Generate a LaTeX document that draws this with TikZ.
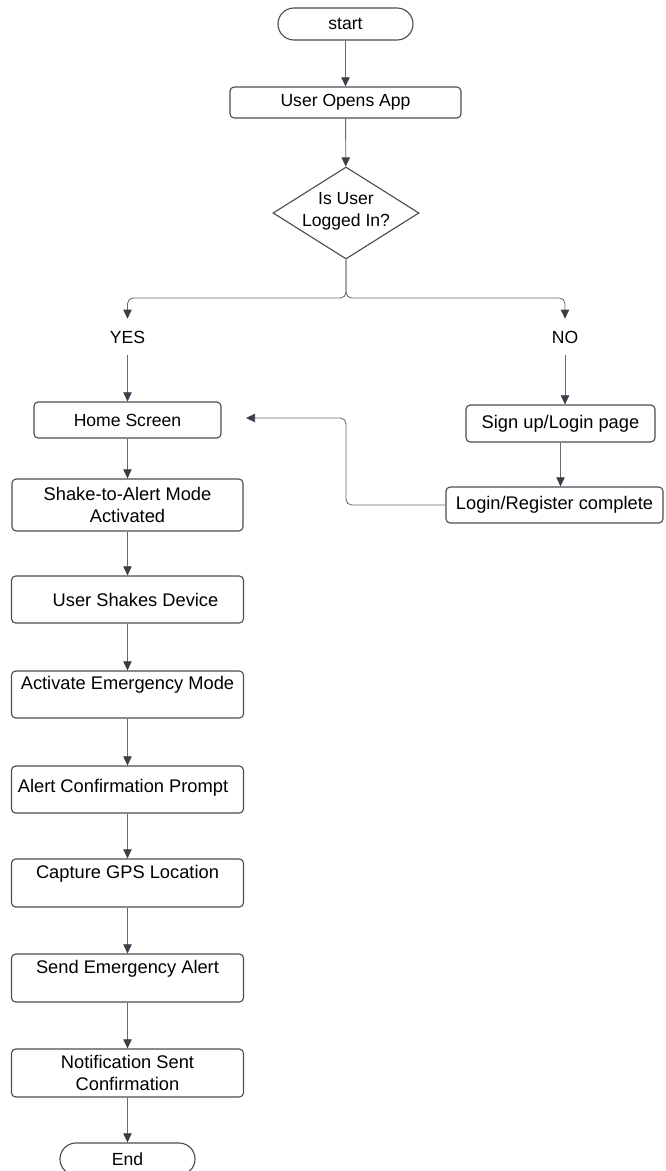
\documentclass[tikz,border=0pt]{standalone}
\usepackage{fontspec}
\setmainfont{Liberation Sans}
\usetikzlibrary{arrows.meta, shapes.geometric, shapes.misc, calc}
\definecolor{boxline}{RGB}{72,77,84}
\definecolor{flowline}{RGB}{100,105,112}
\definecolor{tipcolor}{RGB}{58,64,74}
\tikzset{
  box/.style={draw=boxline, line width=0.8pt, rounded corners=3pt, minimum width=5.8cm, minimum height=1.2cm, inner sep=0pt, align=center, font=\fontsize{13}{15.5}\selectfont},
  term/.style={draw=boxline, line width=0.8pt, rounded rectangle, minimum width=3.375cm, minimum height=0.8cm, inner sep=0pt, font=\fontsize{12.5}{15}\selectfont},
  decide/.style={draw=boxline, line width=0.8pt, diamond, minimum width=3.65cm, minimum height=2.3cm, inner sep=0pt},
  branch/.style={inner sep=0pt, minimum height=0.9cm, font=\fontsize{12.5}{15}\selectfont},
  txt/.style={inner sep=0pt, align=center, font=\fontsize{13}{15.5}\selectfont},
  flow/.style={draw=flowline, line width=0.6pt, rounded corners=4pt, -{Triangle[length=6.5pt, width=6pt, color=tipcolor]}}
}
\begin{document}
\begin{tikzpicture}[x=0.025cm, y=-0.025cm]
  \useasboundingbox (0,0) rectangle (665,1171);

  \node[term] (start) at (345.5,24) {start};
  \node[box, minimum width=5.775cm, minimum height=0.775cm, font=\fontsize{12.5}{15}\selectfont] (open) at (345.5,102.5) {User Opens App};
  \node[decide] (logged) at (346,213) {};
  \node[txt, font=\fontsize{12.5}{15.5}\selectfont] (loggedtxt) at (346,211) {Is User\\Logged In?};
  \coordinate (fork) at (346,298);
  \node[branch] (yes) at (127.5,337) {YES};
  \node[branch] (no) at (565,337) {NO};

  \node[box, minimum width=4.675cm, minimum height=0.9cm, font=\fontsize{12.5}{15}\selectfont] (home) at (127.5,420) {Home Screen};
  \node[box, minimum width=4.725cm, minimum height=0.925cm] (signup) at (560.5,423.5) {Sign up/Login page};
  \node[box, minimum width=5.425cm, minimum height=0.9cm] (done) at (554.5,505) {Login/Register complete};
  \coordinate (bend) at (346,418);
  \coordinate (back) at (246,418);

  \node[box, minimum width=5.775cm, minimum height=1.3cm] (armed) at (127.5,505) {Shake-to-Alert Mode\\Activated};
  \node[box, minimum height=1.175cm] (shakes) at (127.5,599.5) {};
  \node[txt] (shakestxt) at (135.5,600) {User Shakes Device};
  \node[box, minimum height=1.175cm] (emergency) at (127.5,694.5) {};
  \node[txt] (emergencytxt) at (127.5,685) {Activate Emergency Mode};
  \node[box, minimum height=1.175cm] (prompt) at (127.5,789.5) {};
  \node[txt] (prompttxt) at (123,788) {Alert Confirmation Prompt};
  \node[box, minimum height=1.2cm] (gps) at (127.5,883) {};
  \node[txt] (gpstxt) at (127.5,874) {Capture GPS Location};
  \node[box, minimum height=1.2cm] (send) at (127.5,978) {};
  \node[txt] (sendtxt) at (127.5,969) {Send Emergency Alert};
  \node[box, minimum height=1.2cm] (notified) at (127.5,1073) {Notification Sent\\Confirmation};
  \node[term] (end) at (127.5,1159) {End};

  \draw[flow] (start) -- (open);
  \draw[flow] (open) -- (logged);
  \draw[flow] (logged.south) -- (fork) -| (yes.north);
  \draw[flow] (logged.south) -- (fork) -| (no.north);
  \draw[flow] (yes) -- (home);
  \draw[flow] (no.south) -- (no.south |- signup.north);
  \draw[flow] (signup.south) -- (signup.south |- done.north);
  \draw[flow] (done.west) -| (bend) -- (back);

  \draw[flow] (home) -- (armed);
  \draw[flow] (armed) -- (shakes);
  \draw[flow] (shakes) -- (emergency);
  \draw[flow] (emergency) -- (prompt);
  \draw[flow] (prompt) -- (gps);
  \draw[flow] (gps) -- (send);
  \draw[flow] (send) -- (notified);
  \draw[flow] (notified) -- (end);
\end{tikzpicture}
\end{document}
